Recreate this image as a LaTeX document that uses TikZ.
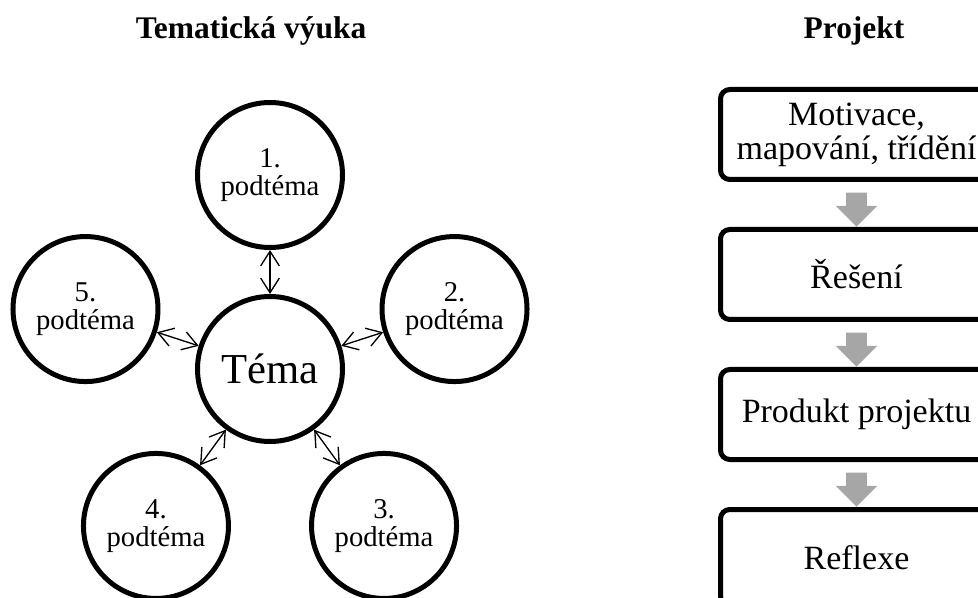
\documentclass[tikz,border=0pt]{standalone}
\usepackage{fontspec}
\setmainfont{Liberation Serif}
\usetikzlibrary{arrows.meta,positioning,shapes.arrows}
\definecolor{arrowgray}{RGB}{166,166,166}
\tikzset{
  topic/.style={circle, draw, line width=3.75pt, minimum size=108.75pt, inner sep=0pt,
    align=center, font=\fontsize{21.5}{21}\selectfont},
  link/.style={{Straight Barb[length=11pt,width=14pt]}-{Straight Barb[length=11pt,width=14pt]}, line width=1pt},
  stage/.style={draw, line width=3.75pt, rounded corners=7pt, minimum width=204pt,
    minimum height=67.5pt, align=center, font=\fontsize{25.5}{25.5}\selectfont},
  flowarrow/.style={single arrow, fill=arrowgray, draw=none, rotate=-90, minimum height=25.5pt,
    inner sep=0pt, inner ysep=7.5pt, single arrow head extend=7.9pt},
  heading/.style={anchor=base, font=\fontsize{23.6}{24}\selectfont\bfseries}
}
\begin{document}
\begin{tikzpicture}[x=0.75pt, y=-0.75pt, node distance=33.75pt]
  \useasboundingbox (0,0) rectangle (978,598);
  \clip (0,0) rectangle (978,598);
  \def\cx{270}\def\cy{369}\def\rr{194}
  % titles
  \node[heading] (lefttitle) at (251,39) {Tematická výuka};
  \node[heading] (righttitle) at (854,39) {Projekt};
  % theme with its five subtopics
  \node[topic, font=\fontsize{32}{32}\selectfont] (tema) at (\cx,\cy) {Téma};
  \foreach \i/\a in {1/-90,2/-18,3/54,4/126,5/198}
    \node[topic] (sub\i) at ([shift={(\a:\rr)}]tema) {\i.\\podtéma};
  \foreach \i in {1,...,5}
    \draw[link] (tema) -- (sub\i);
  % project stages (last one runs off the page)
  \node[stage] (motivace) at (856.5,134.5) {Motivace,\\mapování, třídění};
  \node[stage, below=of motivace] (reseni) {Řešení};
  \node[stage, below=of reseni] (produkt) {Produkt projektu};
  \node[stage, below=of produkt, minimum height=72pt] (reflexe) {Reflexe};
  \path (motivace) -- (reseni) node[midway, flowarrow] (step1) {};
  \path (reseni) -- (produkt) node[midway, flowarrow] (step2) {};
  \path (produkt) -- (reflexe.north) node[midway, flowarrow] (step3) {};
\end{tikzpicture}
\end{document}
